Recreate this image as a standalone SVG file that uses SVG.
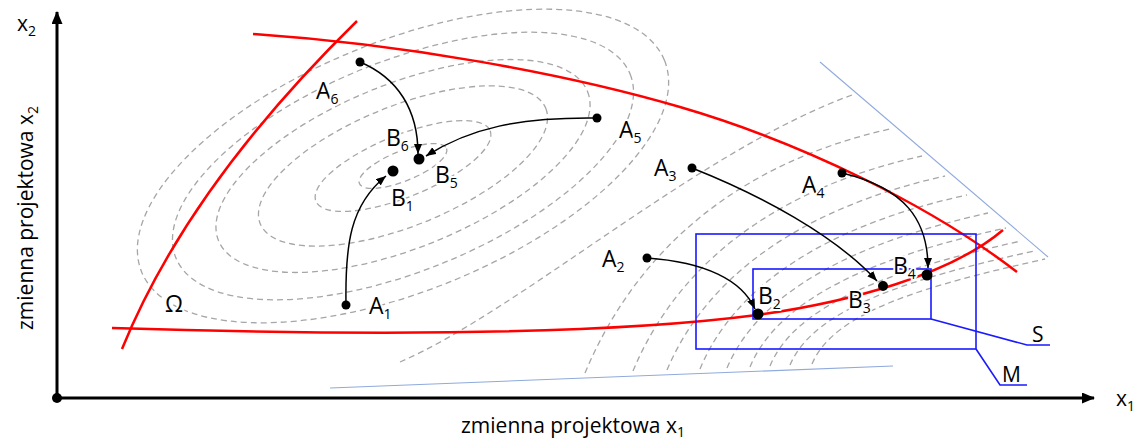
<svg xmlns="http://www.w3.org/2000/svg" width="1141" height="442" viewBox="0 0 1141 442">
<style>
text{font-family:"Open Sans","Noto Sans","DejaVu Sans",sans-serif;fill:#000}
.lbl{font-size:23px;paint-order:stroke;stroke:#fff;stroke-width:4px;stroke-linejoin:round}
.sub{font-size:14px}
.axt{font-size:21px}
.dash{fill:none;stroke:#a6a6a6;stroke-width:1.3;stroke-dasharray:6 4}
.red{fill:none;stroke:#ff0000;stroke-width:2.5}
.lb{fill:none;stroke:#8faadc;stroke-width:1.1}
.bl{fill:none;stroke:#1a1aff;stroke-width:1.6}
.arr{fill:none;stroke:#000;stroke-width:1.5;marker-end:url(#ah)}
.ax{fill:none;stroke:#000;stroke-width:3}
.dot{fill:#000}
</style>
<defs>
<marker id="ah" markerUnits="userSpaceOnUse" markerWidth="11" markerHeight="9" refX="10" refY="4" orient="auto">
<path d="M0,0 L10,4 L0,8 z" fill="#000"/>
</marker>
<marker id="axh" markerUnits="userSpaceOnUse" markerWidth="14" markerHeight="12" refX="12" refY="5.5" orient="auto">
<path d="M0,0 L13,5.5 L0,11 z" fill="#000"/>
</marker>
</defs>

<g id="contours-left">
<g transform="translate(403,166) rotate(-22)">
<ellipse class="dash" rx="47" ry="15"/>
<ellipse class="dash" rx="94" ry="31"/>
<ellipse class="dash" rx="154" ry="60"/>
<ellipse class="dash" rx="199" ry="82"/>
<ellipse class="dash" rx="245" ry="105"/>
<ellipse class="dash" rx="282" ry="125"/>
</g>
</g>

<g id="contours-right">
<path class="dash" d="M400,362 C520,310 700,150 852,95"/>
<path class="dash" d="M585,373 C636,251 737,163 890,129"/>
<path class="dash" d="M633,371 C678,263 777,188 922,156"/>
<path class="dash" d="M667,370 C708,273 806,207 945,176"/>
<path class="dash" d="M700,369 C736,282 833,224 967,195"/>
<path class="dash" d="M727,368 C760,290 857,242 988,213"/>
<path class="dash" d="M750,367 C779,297 878,256 1006,228"/>
<path class="dash" d="M770,366 C796,303 895,269 1021,241"/>
<path class="dash" d="M790,365 C814,308 912,278 1034,251"/>
<path class="dash" d="M812,364 C834,311 928,285 1045,259"/>
</g>

<g id="limits">
<line class="lb" x1="820" y1="62" x2="1048" y2="257"/>
<line class="lb" x1="330" y1="388" x2="893" y2="366"/>
</g>

<g id="boundaries">
<path class="red" d="M253,34 C400,44 560,72 680,107 C800,142 930,205 1017,272"/>
<path class="red" d="M122,349 C148,285 205,170 357,21"/>
<path class="red" d="M112,328 C400,337 620,333 757,315 C850,302 950,275 1003,230"/>
</g>

<g id="region-M">
<rect class="bl" x="696" y="234" width="280" height="115"/>
<polyline class="bl" points="976,349 1000,385 1027,385"/>
<text class="lbl" x="1002" y="382" style="font-size:21px">M</text>
</g>
<g id="region-S">
<rect class="bl" x="753" y="269" width="178" height="50"/>
<polyline class="bl" points="931,319 1027,345 1050,345"/>
<text class="lbl" x="1032" y="342" style="font-size:21px">S</text>
</g>

<g id="connectors">
<path class="arr" d="M360,62 C398,78 418,110 418,154"/>
<path class="arr" d="M597,118 C520,117 470,128 426,156"/>
<path class="arr" d="M346,305 C345,245 350,205 386,176"/>
<path class="arr" d="M692,168 C760,195 835,235 877,281"/>
<path class="arr" d="M842,173 C905,188 928,220 928,268"/>
<path class="arr" d="M647,258 C705,262 742,280 755,309"/>
</g>

<g id="A1"><circle class="dot" cx="346" cy="305" r="4.5"/><text class="lbl" x="369" y="314">A<tspan class="sub" dy="5">1</tspan></text></g>
<g id="A2"><circle class="dot" cx="647" cy="258" r="4.5"/><text class="lbl" x="602" y="267">A<tspan class="sub" dy="5">2</tspan></text></g>
<g id="A3"><circle class="dot" cx="692" cy="168" r="4.5"/><text class="lbl" x="654" y="176">A<tspan class="sub" dy="5">3</tspan></text></g>
<g id="A4"><circle class="dot" cx="842" cy="173" r="4.5"/><text class="lbl" x="802" y="193">A<tspan class="sub" dy="5">4</tspan></text></g>
<g id="A5"><circle class="dot" cx="597" cy="118" r="4.5"/><text class="lbl" x="619" y="138">A<tspan class="sub" dy="5">5</tspan></text></g>
<g id="A6"><circle class="dot" cx="360" cy="62" r="4.5"/><text class="lbl" x="316" y="99">A<tspan class="sub" dy="5">6</tspan></text></g>
<g id="B1"><circle class="dot" cx="393" cy="171" r="5.5"/><text class="lbl" x="391" y="206">B<tspan class="sub" dy="5">1</tspan></text></g>
<g id="B5"><circle class="dot" cx="419" cy="159" r="5.5"/><text class="lbl" x="435" y="183">B<tspan class="sub" dy="5">5</tspan></text></g>
<g id="B6"><text class="lbl" x="386" y="146">B<tspan class="sub" dy="5">6</tspan></text></g>
<g id="B2"><circle class="dot" cx="758" cy="314" r="5.5"/><text class="lbl" x="758" y="304">B<tspan class="sub" dy="5">2</tspan></text></g>
<g id="B3"><circle class="dot" cx="883" cy="286" r="5"/><text class="lbl" x="848" y="308">B<tspan class="sub" dy="5">3</tspan></text></g>
<g id="B4"><circle class="dot" cx="927" cy="275" r="5.5"/><text class="lbl" x="893" y="274">B<tspan class="sub" dy="5">4</tspan></text></g>
<g id="Omega"><text class="lbl" x="165" y="312">Ω</text></g>

<g id="axes">
<line class="ax" x1="57" y1="398" x2="57" y2="12" marker-end="url(#axh)"/>
<line class="ax" x1="57" y1="398" x2="1094" y2="398" marker-end="url(#axh)"/>
<circle cx="57" cy="398" r="5" fill="#000"/>
<text class="axt" x="17" y="31">x<tspan class="sub" dy="5">2</tspan></text>
<text class="axt" x="1116" y="406">x<tspan class="sub" dy="5">1</tspan></text>
<text class="axt" x="461" y="433">zmienna projektowa x<tspan class="sub" dy="4">1</tspan></text>
<text class="axt" transform="translate(33,218) rotate(-90)" text-anchor="middle">zmienna projektowa x<tspan class="sub" dy="5">2</tspan></text>
</g>
</svg>
